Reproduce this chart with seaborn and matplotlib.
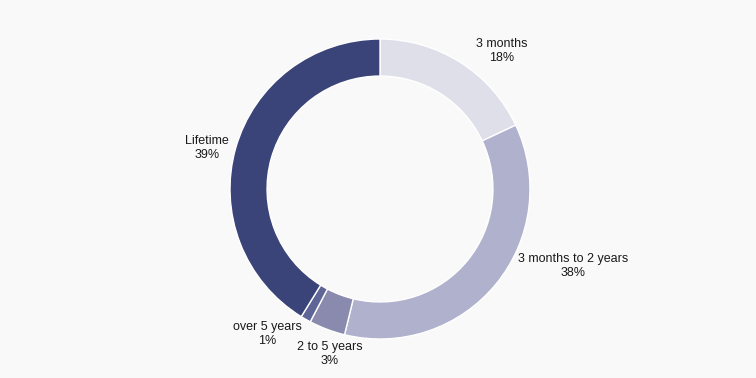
import matplotlib
matplotlib.use("Agg")
import matplotlib.pyplot as plt
import seaborn as sns

# Data
categories = ["3 months", "3 months to 2 years", "2 to 5 years", "over 5 years", "Lifetime"]
pct_labels = ["18%", "38%", "3%", "1%", "39%"]
# slice sizes as drawn in the reference (share of the ring)
shares = [18.0, 35.8, 3.9, 1.1, 41.2]

# Styles / positions
colors = ["#dfdfea", "#b0b1cd", "#8a8aae", "#5f6596", "#3a4479"]
label_pos = [(0.813, 0.92), (1.287, -0.513), (-0.333, -1.10), (-0.75, -0.967), (-1.153, 0.273)]
bg = "#f9f9f9"

sns.set_style("white")
plt.rcParams["font.family"] = ["Liberation Sans", "DejaVu Sans"]

fig = plt.figure(figsize=(7.56, 3.78), dpi=100, facecolor=bg)
ax = fig.add_axes([0, 0, 1, 1])
ax.set_facecolor(bg)

ax.pie(shares, colors=colors, startangle=90, counterclock=False, radius=1.0,
       wedgeprops=dict(width=0.247, edgecolor="white", linewidth=1.0))

for cat, pct, (x, y) in zip(categories, pct_labels, label_pos):
    ax.text(x, y, f"{cat}\n{pct}", ha="center", va="center", fontsize=9,
            color="#1a1a1a", linespacing=1.25)

ax.set_aspect("auto")
ax.set_xlim(-380 / 150, (756 - 380) / 150)
ax.set_ylim(-189 / 150, 189 / 150)
ax.axis("off")

fig.savefig("out.png", dpi=100, facecolor=bg)
